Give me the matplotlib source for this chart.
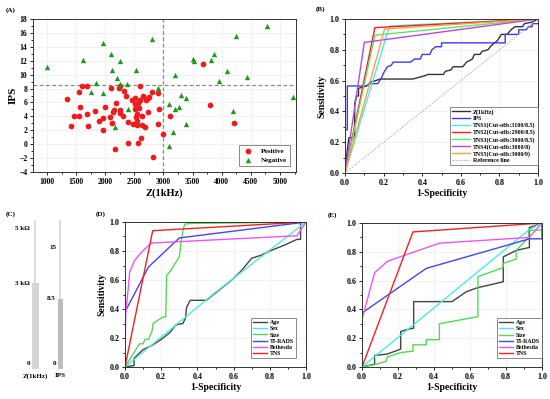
import matplotlib
matplotlib.use('Agg')
import matplotlib.pyplot as plt
from matplotlib.ticker import MultipleLocator, AutoMinorLocator

plt.rcParams['font.family'] = ['Liberation Serif', 'DejaVu Serif']
plt.rcParams['font.weight'] = 'bold'
plt.rcParams['axes.labelweight'] = 'bold'

# ---- panel A data: Z(1kHz) vs IPS ----
pos_z = [1340, 1405, 1465, 1545, 1565, 1550, 1600, 1690, 1695, 1700, 1825, 1895, 1970, 1970,
         2000, 2095, 2085, 2120, 2125, 2145, 2190, 2230, 2255, 2250, 2250, 2305, 2325, 2365,
         2395, 2390, 2170, 2465, 2485, 2505, 2510, 2515, 2525, 2545, 2545, 2540, 2555, 2560,
         2575, 2600, 2600, 2615, 2630, 2630, 2655, 2685, 2705, 2730, 2750, 2730, 2800, 2815,
         2905, 2920, 2910, 3000, 3105, 3685, 3800, 4205]
pos_ips = [6.5, 2.6, 4.0, 7.5, 5.3, 4.0, 8.3, 8.4, 4.3, 2.6, 4.8, 3.3, 3.7, 2.1,
           5.4, 8.1, 3.9, 3.1, 4.6, 4.9, 5.9, 8.1, 8.3, 4.9, 4.5, 4.0, 7.7, 6.9,
           3.2, 0.1, -0.7, 6.4, 2.9, 5.1, 5.8, 6.6, 3.9, 4.4, 3.3, 2.8, 0.2, 5.9,
           5.2, 8.4, 6.4, 0.9, 4.0, 2.7, 7.0, 2.5, 6.3, 6.7, 6.8, 4.6, 7.5, -1.9,
           7.4, 5.0, 2.9, 1.4, 4.1, 11.5, 5.6, 3.0]
neg_z = [1000, 1610, 1970, 2100, 2115, 2250, 2210, 2250, 1835, 1760, 1970, 2160, 2370, 2525,
         2395, 2810, 2905, 3100, 3100, 3170, 3200, 3200, 3265, 3305, 3385, 3385, 3505, 3520,
         3820, 3875, 3955, 4090, 4200, 4250, 4440, 4770, 5220]
neg_ips = [11.1, 12.1, 14.6, 12.9, 10.7, 11.9, 9.5, 8.7, 8.8, 7.5, 7.3, 2.4, 8.6, 10.7,
           5.0, 15.1, 8.1, 5.8, -0.2, 1.8, 5.1, 10.0, 5.3, 7.1, 6.7, 2.9, 12.3, 12.0,
           12.1, 12.9, 9.1, 10.5, 4.8, 15.6, 9.7, 17.0, 6.8]
z_cut = 3000
ips_cut = 8.5

# ---- panel B data: ROC curves ----
zroc_x = [0, 0.01, 0.02, 0.05, 0.05, 0.06, 0.07, 0.07, 0.10, 0.12, 0.13, 0.16, 0.18, 0.35, 0.38,
          0.41, 0.43, 0.51, 0.52, 0.55, 0.56, 0.61, 0.63, 0.66, 0.67, 0.70, 0.71, 0.74, 0.76,
          0.79, 0.81, 0.84, 0.86, 0.88, 0.92, 0.93, 0.97, 1.0]
zroc_y = [0, 0.13, 0.23, 0.23, 0.45, 0.50, 0.50, 0.55, 0.56, 0.57, 0.59, 0.60, 0.61, 0.61, 0.62,
          0.63, 0.64, 0.64, 0.66, 0.67, 0.69, 0.69, 0.72, 0.74, 0.77, 0.77, 0.79, 0.80, 0.83,
          0.86, 0.90, 0.90, 0.93, 0.95, 0.95, 0.97, 0.98, 1.0]
iroc_x = [0, 0, 0.012, 0.012, 0.10, 0.12, 0.13, 0.17, 0.18, 0.19, 0.20, 0.21, 0.22, 0.24, 0.25,
          0.34, 0.36, 0.39, 0.40, 0.44, 0.45, 0.47, 0.50, 0.50, 0.83, 0.83, 0.90, 0.90, 0.94,
          0.95, 0.97, 0.97, 1.0]
iroc_y = [0, 0.28, 0.28, 0.565, 0.565, 0.57, 0.58, 0.58, 0.60, 0.62, 0.65, 0.67, 0.69, 0.70, 0.72,
          0.72, 0.74, 0.74, 0.77, 0.77, 0.80, 0.82, 0.82, 0.845, 0.845, 0.90, 0.90, 0.93, 0.93,
          0.95, 0.95, 0.97, 0.97]
tns_names = ['TNS1(Cut-offs:3100/8.5)', 'TNS2(Cut-offs:2900/8.5)', 'TNS3(Cut-offs:3000/8.5)',
             'TNS4(Cut-offs:3000/8)', 'TNS5(Cut-offs:3000/9)']
tns_fpr = [0.23, 0.155, 0.155, 0.10, 0.205]
tns_tpr = [0.955, 0.944, 0.895, 0.848, 0.935]
tns_colors = ['#4de8ee', '#ee2222', '#66e066', '#b847e0', '#f5a347']

# ---- panel C data ----
c_names = ['Z(1kHz)', 'IPS']
c_cutoff = [3, 8.5]
c_range = [5.2, 18]
c_tick_vals = [[0, 3, 5], [0, 8.5, 15]]
c_tick_text = [['0', '3 k\u03a9', '5 k\u03a9'], ['0', '8.5', '15']]

# ---- panel D data (training) ----
d_age_x = [0, 0.05, 0.05, 0.10, 0.15, 0.20, 0.25, 0.28, 0.32, 0.335, 0.34, 0.36, 0.45, 0.59,
           0.64, 0.70, 0.75, 0.80, 0.88, 0.95, 0.97, 0.97, 1.0]
d_age_y = [0, 0.01, 0.06, 0.12, 0.15, 0.19, 0.24, 0.29, 0.30, 0.34, 0.41, 0.46, 0.46, 0.60,
           0.66, 0.75, 0.77, 0.80, 0.84, 0.88, 0.88, 1.0, 1.0]
d_sex_x = [0, 0.5, 1.0]
d_sex_y = [0, 0.515, 1.0]
d_size_x = [0, 0.02, 0.04, 0.05, 0.07, 0.08, 0.10, 0.11, 0.13, 0.15, 0.155, 0.21, 0.225, 0.23,
            0.25, 0.275, 0.29, 0.30, 0.31, 0.32, 0.33, 0.36, 1.0]
d_size_y = [0, 0.04, 0.08, 0.10, 0.14, 0.16, 0.16, 0.19, 0.19, 0.25, 0.30, 0.345, 0.345, 0.63,
            0.66, 0.71, 0.74, 0.76, 0.86, 0.94, 0.985, 0.99, 1.0]
d_tirads_x = [0, 0, 0.13, 0.30, 1.0]
d_tirads_y = [0, 0.38, 0.69, 0.89, 1.0]
d_beth_x = [0, 0.004, 0.017, 0.026, 0.053, 0.09, 0.145, 0.95, 1.0]
d_beth_y = [0, 0.37, 0.53, 0.655, 0.735, 0.79, 0.855, 0.905, 1.0]
d_tns_x = [0, 0.153, 1.0]
d_tns_y = [0, 0.94, 1.0]

# ---- panel E data (validation) ----
e_age_x = [0, 0.07, 0.07, 0.14, 0.215, 0.215, 0.25, 0.287, 0.287, 0.50, 0.58, 0.64, 0.785,
           0.785, 0.857, 0.93, 0.93, 1.0]
e_age_y = [0, 0.02, 0.08, 0.09, 0.124, 0.247, 0.26, 0.27, 0.454, 0.454, 0.523, 0.55, 0.592,
           0.765, 0.81, 0.83, 0.968, 1.0]
e_sex_x = [0, 0.93, 1.0]
e_sex_y = [0, 0.955, 1.0]
e_size_x = [0, 0.07, 0.135, 0.14, 0.215, 0.283, 0.283, 0.357, 0.357, 0.43, 0.43, 0.644,
            0.644, 0.783, 0.785, 0.857, 0.857, 0.926, 0.926, 1.0, 1.0]
e_size_y = [0, 0.016, 0.04, 0.07, 0.10, 0.11, 0.154, 0.154, 0.19, 0.19, 0.30, 0.35,
            0.627, 0.69, 0.72, 0.75, 0.81, 0.90, 0.95, 0.95, 1.0]
e_tirads_x = [0, 0, 0.357, 0.93, 1.0, 1.0]
e_tirads_y = [0, 0.375, 0.685, 0.89, 0.89, 1.0]
e_beth_x = [0, 0, 0.07, 0.143, 0.43, 0.93, 1.0]
e_beth_y = [0, 0.33, 0.655, 0.735, 0.86, 0.90, 1.0]
e_tns_x = [0, 0.283, 1.0]
e_tns_y = [0, 0.938, 1.0]

var_names = ['Age', 'Sex', 'Size', 'TI-RADS', 'Bethesda', 'TNS']
var_colors = ['#444444', '#4de8e8', '#55d855', '#4545f0', '#ee55ee', '#ee2222']

W, H = 550, 399


def box(l, t, r, b):
    # pixel box -> figure fraction
    return [l / W, 1 - b / H, (r - l) / W, (b - t) / H]


def style_axes(ax, tick_size=5.8):
    ax.tick_params(which='both', direction='out', top=False, right=False,
                   labelsize=tick_size, width=0.6, pad=1.5)
    ax.tick_params(which='major', length=2.5)
    ax.tick_params(which='minor', length=1.5)
    ax.xaxis.set_minor_locator(AutoMinorLocator(2))
    ax.yaxis.set_minor_locator(AutoMinorLocator(2))
    ax.grid(True, which='major', color='#ececec', lw=0.5)
    ax.set_axisbelow(True)
    for s in ax.spines.values():
        s.set_linewidth(0.7)
        s.set_color('#333333')


def roc_axes(ax, ylabel=True):
    ax.set_xlim(0, 1)
    ax.set_ylim(0, 1)
    ax.xaxis.set_major_locator(MultipleLocator(0.2))
    ax.yaxis.set_major_locator(MultipleLocator(0.2))
    ax.xaxis.set_major_formatter('{x:.1f}')
    ax.yaxis.set_major_formatter('{x:.1f}')
    style_axes(ax)
    ax.set_xlabel('1-Specificity', fontsize=7, labelpad=2)
    if ylabel:
        ax.set_ylabel('Sensitivity', fontsize=7, labelpad=2)


fig = plt.figure(figsize=(W / 100, H / 100), dpi=100)

# (A) scatter
axA = fig.add_axes(box(33, 19, 296, 172))
axA.scatter(pos_z, pos_ips, s=17, color='#ee1c1c', marker='o', lw=0, label='Positive', zorder=3)
axA.scatter(neg_z, neg_ips, s=15, color='#1a9a1a', marker='^', lw=0, label='Negative', zorder=3)
axA.axvline(z_cut, color='#888888', ls='--', lw=0.9, dashes=(3, 2))
axA.axhline(ips_cut, color='#888888', ls='--', lw=0.9, dashes=(3, 2))
axA.set_xlim(760, 5275)
axA.set_ylim(-4, 18)
axA.xaxis.set_major_locator(MultipleLocator(500))
axA.yaxis.set_major_locator(MultipleLocator(2))
style_axes(axA, tick_size=5.5)
axA.set_xlabel('Z(1kHz)', fontsize=7.5, labelpad=2)
axA.set_ylabel('IPS', fontsize=8, labelpad=1)
axA.legend(loc='lower right', fontsize=5, frameon=True, fancybox=False, edgecolor='#555555',
           handletextpad=0.8, labelspacing=0.45, borderaxespad=0.9, markerscale=1.0,
           borderpad=0.4).get_frame().set_linewidth(0.6)

# (B) ROC of single indicators and TNS
axB = fig.add_axes(box(345, 19, 538, 173))
axB.plot(zroc_x, zroc_y, color='#333333', lw=1.0, label='Z(1kHz)')
axB.plot(iroc_x, iroc_y, color='#3b3bf0', lw=1.0, label='IPS')
for name, fx, ty, col in zip(tns_names, tns_fpr, tns_tpr, tns_colors):
    axB.plot([0, fx, 1], [0, ty, 1], color=col, lw=1.0, label=name)
axB.plot([0, 1], [0, 1], color='#aaaaaa', ls=(0, (1.5, 1.5)), lw=0.7, label='Reference line')
roc_axes(axB)
axB.legend(loc='lower right', bbox_to_anchor=(1.0, 0.05), fontsize=4.3, frameon=True,
           fancybox=False, edgecolor='#555555', handlelength=3.0, handletextpad=0.6,
           labelspacing=0.22, borderaxespad=0, borderpad=0.35).get_frame().set_linewidth(0.6)

# (C) cut-off bars
axC = fig.add_axes(box(20, 220, 70, 369))
bar_w = [0.28, 0.2]
bar_col = ['#d6d6d6', '#bcbcbc']
xs = list(range(len(c_names)))
for i in xs:
    axC.vlines(i, 0, 1, color='#dcdcdc', lw=1.4, zorder=1)
    axC.bar(i, c_cutoff[i] / c_range[i], width=bar_w[i], color=bar_col[i], zorder=2)
    for v, t in zip(c_tick_vals[i], c_tick_text[i]):
        va = 'bottom' if v == 0 else ('top' if v == max(c_tick_vals[i]) else 'center')
        axC.text(i - bar_w[i] / 2 - 0.08, v / c_range[i] + (0.02 if v == 0 else 0), t,
                 ha='right', va=va, fontsize=5)
axC.hlines(0, xs[0] - bar_w[0] / 2, xs[-1] + bar_w[-1] / 2, color='#dcdcdc', lw=1.0)
axC.set_xlim(-0.62, 1.38)
axC.set_ylim(0, 1)
axC.set_xticks(xs)
axC.set_xticklabels(c_names, fontsize=5)
axC.tick_params(axis='x', length=0, pad=3)
axC.set_yticks([])
for s in axC.spines.values():
    s.set_visible(False)

# (D) training set ROC, (E) validation set ROC
d_curves = [(d_age_x, d_age_y), (d_sex_x, d_sex_y), (d_size_x, d_size_y),
            (d_tirads_x, d_tirads_y), (d_beth_x, d_beth_y), (d_tns_x, d_tns_y)]
e_curves = [(e_age_x, e_age_y), (e_sex_x, e_sex_y), (e_size_x, e_size_y),
            (e_tirads_x, e_tirads_y), (e_beth_x, e_beth_y), (e_tns_x, e_tns_y)]

axD = fig.add_axes(box(125, 222, 306, 367))
axE = fig.add_axes(box(362, 223, 542, 367))
for ax, curves, ylab, anchor in [(axD, d_curves, True, (0.945, 0.06)),
                                 (axE, e_curves, False, (1.0, 0.06))]:
    for (cx, cy), name, col in zip(curves, var_names, var_colors):
        ax.plot(cx, cy, color=col, lw=1.0, label=name)
    roc_axes(ax, ylabel=ylab)
    ax.legend(loc='lower right', bbox_to_anchor=anchor, fontsize=4.2, frameon=True,
              fancybox=False, edgecolor='#555555', handlelength=2.4, handletextpad=0.5,
              labelspacing=0.2, borderaxespad=0, borderpad=0.35).get_frame().set_linewidth(0.6)

# panel letters
for lab, x, y in [('(A)', 6, 10), ('(B)', 316, 9), ('(C)', 6, 214), ('(D)', 96, 214), ('(E)', 328, 215)]:
    fig.text(x / W, 1 - y / H, lab, fontsize=5, ha='left', va='center')

fig.savefig('out.png', dpi=100)
